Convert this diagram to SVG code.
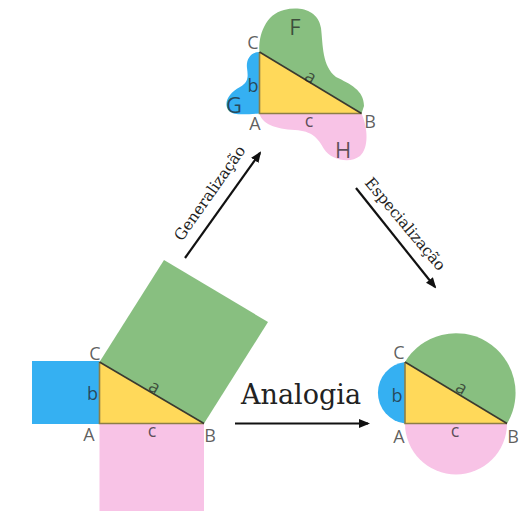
<svg xmlns="http://www.w3.org/2000/svg" width="521" height="511" viewBox="0 0 521 511">
<style>
.bg{fill:#ffffff}
.blue{fill:#35b0f2}
.green{fill:#88bf80}
.pink{fill:#f8c3e6}
.tri{fill:#ffd95a}
.leg{stroke:#8c7e45;stroke-width:1.6;fill:none}
.hyp{stroke:#3a3a30;stroke-width:1.6;fill:none}
.lbl{font-family:"Open Sans","DejaVu Sans",sans-serif;font-size:18px;fill:#222;fill-opacity:0.72;text-anchor:middle;dominant-baseline:central}
.big{font-size:22px}
.cap{font-family:"DejaVu Serif","Liberation Serif",serif;fill:#222}
.arr{stroke:#111;stroke-width:2.2;fill:none;marker-end:url(#ah)}
</style>
<defs>
<marker id="ah" markerUnits="userSpaceOnUse" markerWidth="11" markerHeight="10" refX="9" refY="5" orient="auto">
<path d="M0,0.5 L11,5 L0,9.5 Z" fill="#111"/>
</marker>
</defs>
<rect class="bg" x="0" y="0" width="521" height="511"/>

<g id="square-figure">
<rect class="blue" x="32" y="361" width="67.5" height="63"/>
<rect class="pink" x="99.5" y="423.5" width="104.5" height="90"/>
<polygon class="green" points="99.5,362 164,260 268,322 204,423.5"/>
<polygon class="tri" points="99.5,362 99.5,423.5 204,423.5"/>
<path class="leg" d="M99.5,362 L99.5,423.5 L204,423.5"/>
<path class="hyp" d="M99.5,362 L204,423.5"/>
<text class="lbl" x="95" y="353">C</text>
<text class="lbl" x="92.5" y="393">b</text>
<text class="lbl" x="155" y="386" transform="rotate(30 155 386)">a</text>
<text class="lbl" x="89" y="434">A</text>
<text class="lbl" x="152" y="430">c</text>
<text class="lbl" x="210" y="435">B</text>
</g>

<g id="blob-figure">
<path class="green" d="M259.5,52 C258,35 266,14 284,10 C300,6 318,10 321,28 C323,45 322,66 336,77 C350,84 364,90 364,106 L361.5,113.5 Z"/>
<path class="blue" d="M259.5,52 C250,52 246,60 247,68 C248,76 249,82 240,87 C228,93 223,104 229,111 C234,116 248,114 259.5,113.5 Z"/>
<path class="pink" d="M259.5,113.5 C262,124 275,129 295,130 C312,131 318,138 324,149 C331,160 350,164 360,156 C369,148 368,128 361.5,113.5 Z"/>
<polygon class="tri" points="259.5,52 259.5,113.5 361.5,113.5"/>
<path class="leg" d="M259.5,52 L259.5,113.5 L361.5,113.5"/>
<path class="hyp" d="M259.5,52 L361.5,113.5"/>
<text class="lbl" x="253" y="42">C</text>
<text class="lbl" x="253" y="85">b</text>
<text class="lbl" x="311" y="76" transform="rotate(30 311 76)">a</text>
<text class="lbl" x="255" y="123">A</text>
<text class="lbl" x="309" y="120">c</text>
<text class="lbl" x="370" y="121">B</text>
<text class="lbl big" x="295" y="26">F</text>
<text class="lbl big" x="234" y="104">G</text>
<text class="lbl big" x="343" y="149">H</text>
</g>

<g id="circle-figure">
<path class="green" d="M405,362 A59.4,59.4 0 0 1 507,423.5 Z"/>
<path class="blue" d="M405,362 A31,31 0 0 0 405,423.5 Z"/>
<path class="pink" d="M405,423.5 A51,51 0 0 0 507,423.5 Z"/>
<polygon class="tri" points="405,362 405,423.5 507,423.5"/>
<path class="leg" d="M405,362 L405,423.5 L507,423.5"/>
<path class="hyp" d="M405,362 L507,423.5"/>
<text class="lbl" x="399" y="352">C</text>
<text class="lbl" x="397" y="395">b</text>
<text class="lbl" x="462" y="387" transform="rotate(30 462 387)">a</text>
<text class="lbl" x="399" y="436">A</text>
<text class="lbl" x="455" y="430">c</text>
<text class="lbl" x="513" y="436">B</text>
</g>

<g id="connectors">
<line class="arr" x1="235" y1="423.5" x2="368" y2="423.5"/>
<line class="arr" x1="185" y1="258" x2="260" y2="153"/>
<line class="arr" x1="356" y1="188" x2="435" y2="287"/>
</g>

<g id="labels">
<text class="cap" x="241" y="404" font-size="27" textLength="120" lengthAdjust="spacingAndGlyphs">Analogia</text>
<text class="cap" x="182" y="242" font-size="15.5" transform="rotate(-55 182 242)">Generalização</text>
<text class="cap" x="364" y="183" font-size="15.5" transform="rotate(50 364 183)">Especialização</text>
</g>
</svg>
